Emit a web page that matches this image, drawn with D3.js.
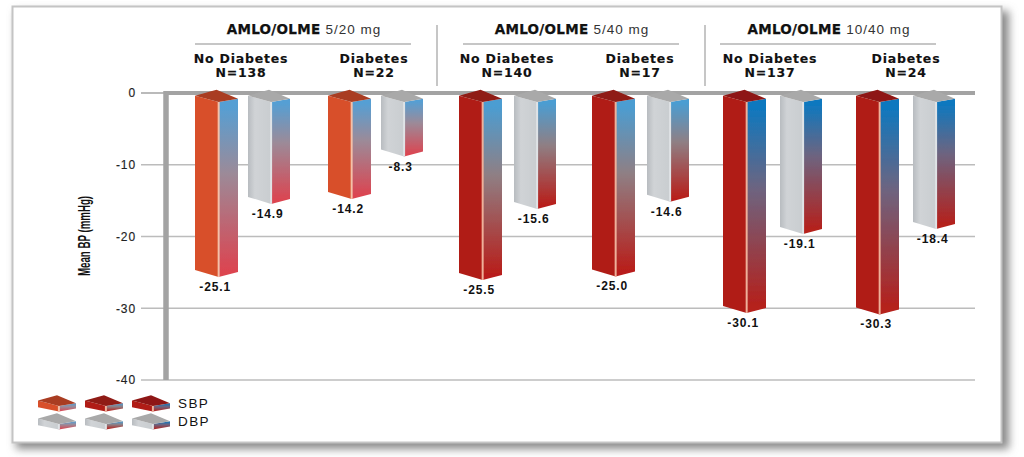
<!DOCTYPE html>
<html><head><meta charset="utf-8">
<script src="https://cdn.jsdelivr.net/npm/d3@7"></script>
<style>
html,body{margin:0;padding:0;background:#fff}
svg{display:block}
text{fill:#111}
.hd{font:bold 13.5px "DejaVu Sans";letter-spacing:.3px;stroke:#111;stroke-width:.25px}
.hd2{font:13.5px "Liberation Sans";font-weight:400;letter-spacing:1px;fill:#333}
.sub{font:bold 12.5px "DejaVu Sans";letter-spacing:.8px;stroke:#111;stroke-width:.15px}
.val{font:bold 12px "Liberation Sans";letter-spacing:.9px}
.tick text{font:12px "Liberation Sans";letter-spacing:.9px;fill:#222;stroke:#222;stroke-width:.15px}
.yl{font:bold 14.5px "Liberation Sans"}
.lg{font:13.5px "Liberation Sans";letter-spacing:1.4px}
</style></head><body><div id="c"></div>
<script>
const doses=["5/20 mg","5/40 mg","10/40 mg"];
const subgroups=["No Diabetes","Diabetes"];
const drugName="AMLO/OLME";
const nValues=[[138,22],[140,17],[137,24]];
const sbpValues=[[-25.1,-14.2],[-25.5,-25.0],[-30.1,-30.3]];
const dbpValues=[[-14.9,-8.3],[-15.6,-14.6],[-19.1,-18.4]];
const yTicks=[0,-10,-20,-30,-40];
const legendItems=["SBP","DBP"];
const yTitle="Mean BP (mmHg)";

const W=1024,H=457;
const svg=d3.select("#c").append("svg").attr("width",W).attr("height",H);
const defs=svg.append("defs");
const shadow=defs.append("filter").attr("id","sh").attr("x","-5%").attr("y","-5%").attr("width","110%").attr("height","110%");
shadow.append("feGaussianBlur").attr("stdDeviation",4);
const soft=defs.append("filter").attr("id","soft");
soft.append("feGaussianBlur").attr("stdDeviation",.5);

const palette=[
 {left:"#d8502a",cap:"#a93c22",rt:"#559fd4",rm:"#9c8a98",rb:"#dc4450",sliver:"#f4c0a8"},
 {left:"#b01c16",cap:"#8f1a14",rt:"#4b9dd2",rm:"#8f7f84",rb:"#b81e1a",sliver:"#eeb09a"},
 {left:"#b01a14",cap:"#8e1713",rt:"#0e78bf",rm:"#6d6480",rb:"#b5201b",sliver:"#eeb09a"}];
palette.forEach((p,i)=>{
  const g=defs.append("linearGradient").attr("id","g"+i).attr("x1",0).attr("x2",0).attr("y1",0).attr("y2",1);
  g.append("stop").attr("offset","4%").attr("stop-color",p.rt);
  g.append("stop").attr("offset","42%").attr("stop-color",p.rm);
  g.append("stop").attr("offset","97%").attr("stop-color",p.rb);
});
const gl=defs.append("linearGradient").attr("id","gray").attr("x1",0).attr("x2",1).attr("y1",0).attr("y2",0);
gl.append("stop").attr("offset","0").attr("stop-color","#b8bcc0");
gl.append("stop").attr("offset",".3").attr("stop-color","#d0d3d6");
gl.append("stop").attr("offset","1").attr("stop-color","#c9cdd0");

// frame
svg.append("rect").attr("x",16).attr("y",11).attr("width",993).attr("height",438).attr("fill","#8a8a8a").attr("filter","url(#sh)");
svg.append("rect").attr("x",12.5).attr("y",6.5).attr("width",989).attr("height",436).attr("fill","#fff").attr("stroke","#c4c4c4").attr("stroke-width",2);

// scales
const y=d3.scaleLinear().domain([0,-40]).range([93,380]);
const xDose=d3.scalePoint().domain(doses).range([195,723]);
const xSub=d3.scalePoint().domain(subgroups).range([0,133]);
const xHead=d3.scaleOrdinal(doses,[303,571,828]);
const xSep=d3.scaleOrdinal(doses,[0,437,705]);
const xSubLabel=d3.scaleOrdinal(doses,[46,48,47]);
const seriesStep=[53,55,57], barW=43;

// axis
const axis=d3.axisLeft(y).tickValues(yTicks).tickSize(0).tickPadding(29).tickFormat(d=>d===0?"0":"-"+Math.abs(d));
const ax=svg.append("g").attr("transform","translate(165,0)").call(axis);
ax.select(".domain").remove();
yTicks.forEach(t=>{
  svg.append("line").attr("x1",141).attr("x2",975).attr("y1",y(t)).attr("y2",y(t))
    .attr("stroke",t===0?"#a3a3a3":"#bcbcbc").attr("stroke-width",t===0?1.5:1.4);
});
svg.append("line").attr("x1",165).attr("x2",975).attr("y1",y(0)).attr("y2",y(0)).attr("stroke","#a3a3a3").attr("stroke-width",4);
svg.append("line").attr("x1",166).attr("x2",166).attr("y1",y(0)-2).attr("y2",y(-40)).attr("stroke","#a3a3a3").attr("stroke-width",5.5);
svg.append("text").attr("class","yl").attr("text-anchor","middle")
  .attr("transform",`translate(90,236) rotate(-90) scale(.67,1.1)`).text(yTitle);

// 3D block
function block(g,x,w,top,bot,rise,drop,leftFill,capFill,rightFill,sliver){
  const f=x+w*.55;
  const pts=a=>a.map(p=>p.join(",")).join(" ");
  g.append("polygon").attr("points",pts([[x,top+rise*.3],[f,top+rise],[f,bot+drop],[x,bot-drop*.75]])).attr("fill",leftFill);
  g.append("polygon").attr("points",pts([[f,top+rise],[x+w,top+rise*.65],[x+w,bot-drop*.25],[f,bot+drop]])).attr("fill",rightFill);
  g.append("polygon").attr("points",pts([[x,top+rise*.3],[x+w*.5,top-rise*.35],[x+w,top+rise*.65],[f,top+rise]])).attr("fill",capFill);
  g.append("line").attr("x1",f).attr("x2",f).attr("y1",top+rise).attr("y2",bot+drop).attr("stroke",sliver).attr("stroke-width",2);
}

const bars=svg.append("g").attr("filter","url(#soft)");
doses.forEach((d,i)=>{
  subgroups.forEach((s,j)=>{
    const x0=xDose(d)+xSub(s);
    [sbpValues[i][j],dbpValues[i][j]].forEach((v,k)=>{
      const x=x0+k*seriesStep[i];
      const w=k?barW-1:barW;
      block(bars,x,w,y(0),y(v),9,4,
        k?"url(#gray)":palette[i].left,
        k?"#a9a9a9":palette[i].cap,
        `url(#g${i})`,
        k?"#dfe3e6":palette[i].sliver);
      svg.append("text").attr("class","val").attr("text-anchor","middle")
        .attr("x",x+w*.47).attr("y",y(v)+18).text(v.toFixed(1));
    });
  });
});

// headers
doses.forEach((d,i)=>{
  const c=xHead(d);
  const t=svg.append("text").attr("text-anchor","middle").attr("x",c+1).attr("y",34);
  t.append("tspan").attr("class","hd").text(drugName+" ");
  t.append("tspan").attr("class","hd2").text(d);
  svg.append("line").attr("x1",c-108).attr("x2",c+108).attr("y1",44).attr("y2",44).attr("stroke","#b3b3b3").attr("stroke-width",1.5);
  subgroups.forEach((s,j)=>{
    const cx=xDose(d)+xSub(s)+xSubLabel(d)+(i===2?j*3:0);
    svg.append("text").attr("class","sub").attr("text-anchor","middle").attr("x",cx).attr("y",63).text(s);
    svg.append("text").attr("class","sub").attr("text-anchor","middle").attr("x",cx).attr("y",77).text("N="+nValues[i][j]);
  });
  if(i>0){
    svg.append("line").attr("x1",xSep(d)).attr("x2",xSep(d)).attr("y1",25).attr("y2",86).attr("stroke","#b3b3b3").attr("stroke-width",1.5);
  }
});

// legend
const lg=svg.append("g").attr("filter","url(#soft)");
const xLeg=d3.scalePoint().domain(doses).range([38,132]);
const yLeg=d3.scalePoint().domain(legendItems).range([398,416]);
legendItems.forEach((s,k)=>{
  doses.forEach((d,i)=>{
    block(lg,xLeg(d),38,yLeg(s),yLeg(s)+11,8,2.5,
      k?"url(#gray)":palette[i].left,
      k?"#a9a9a9":palette[i].cap,
      `url(#g${i})`,
      k?"#dfe3e6":palette[i].sliver);
  });
  svg.append("text").attr("class","lg").attr("x",178).attr("y",yLeg(s)+10).text(s);
});
</script></body></html>
